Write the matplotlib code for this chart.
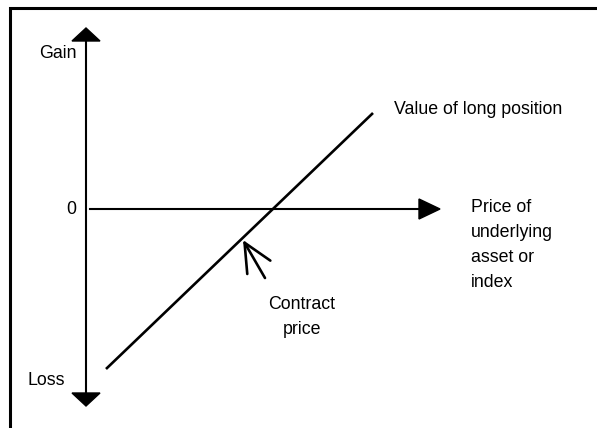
import matplotlib
matplotlib.use("Agg")
import matplotlib.pyplot as plt
import matplotlib.font_manager as fm
from matplotlib.patches import Polygon, Rectangle

# the reference lettering is a tall, slightly condensed Arial
names = {f.name for f in fm.fontManager.ttflist}
if 'Liberation Sans Narrow' in names:
    plt.rcParams['font.family'] = ['Liberation Sans Narrow', 'DejaVu Sans']
    plt.rcParams['font.size'] = 14.6
    spacing = 1.25
else:
    plt.rcParams['font.family'] = ['Liberation Sans', 'DejaVu Sans']
    plt.rcParams['font.size'] = 12.8
    spacing = 1.6

# schematic data (price on x, gain/loss on y)
line_price = [2.0, 28.7]
line_value = [-16.0, 9.6]
contract_tip = (15.7, -3.1)
contract_tail = (17.9, -6.9)

gain_axis = [-18.4, 16.8]
price_axis = [0.4, 33.3]

fig = plt.figure(figsize=(5.97, 4.28), dpi=100)
ax = fig.add_axes([0, 0, 1, 1])
ax.set_xlim(-8.6, 51.1)
ax.set_ylim(-21.9, 20.9)
ax.axis('off')

# frame (only top and left edges fall inside the picture)
fig.patches.append(Rectangle((9.5 / 597, -0.1), 1.2, 1.1 - 8.5 / 428,
                             transform=fig.transFigure, fill=False,
                             edgecolor='black', linewidth=2.2))

# vertical gain/loss axis
ax.plot([0, 0], gain_axis, color='black', lw=1.5)
ax.add_patch(Polygon([(-1.4, 16.8), (1.4, 16.8), (0, 18.1)], closed=True, color='black'))
ax.add_patch(Polygon([(-1.4, -18.4), (1.4, -18.4), (0, -19.7)], closed=True, color='black'))

# horizontal price axis
ax.plot(price_axis, [0, 0], color='black', lw=1.5)
ax.add_patch(Polygon([(33.3, 1.0), (33.3, -1.0), (35.4, 0)], closed=True, color='black'))

# value of long position
ax.plot(line_price, line_value, color='black', lw=1.9, solid_capstyle='butt')

ax.annotate('', xy=contract_tip, xytext=contract_tail,
            arrowprops=dict(arrowstyle='->, head_length=1.6, head_width=0.75',
                            color='black', lw=1.9, shrinkA=0, shrinkB=0))

ax.text(-0.9, 15.6, 'Gain', ha='right', va='center')
ax.text(-1.45, 0, '0', ha='center', va='center')
ax.text(-2.1, -17.1, 'Loss', ha='right', va='center')
ax.text(30.8, 9.9, 'Value of long position', ha='left', va='center')
ax.text(38.5, -3.6, 'Price of\nunderlying\nasset or\nindex', ha='left', va='center',
        linespacing=spacing)
ax.text(21.6, -10.8, 'Contract\nprice', ha='center', va='center',
        multialignment='center', linespacing=spacing)

fig.savefig('out.png', dpi=100)
